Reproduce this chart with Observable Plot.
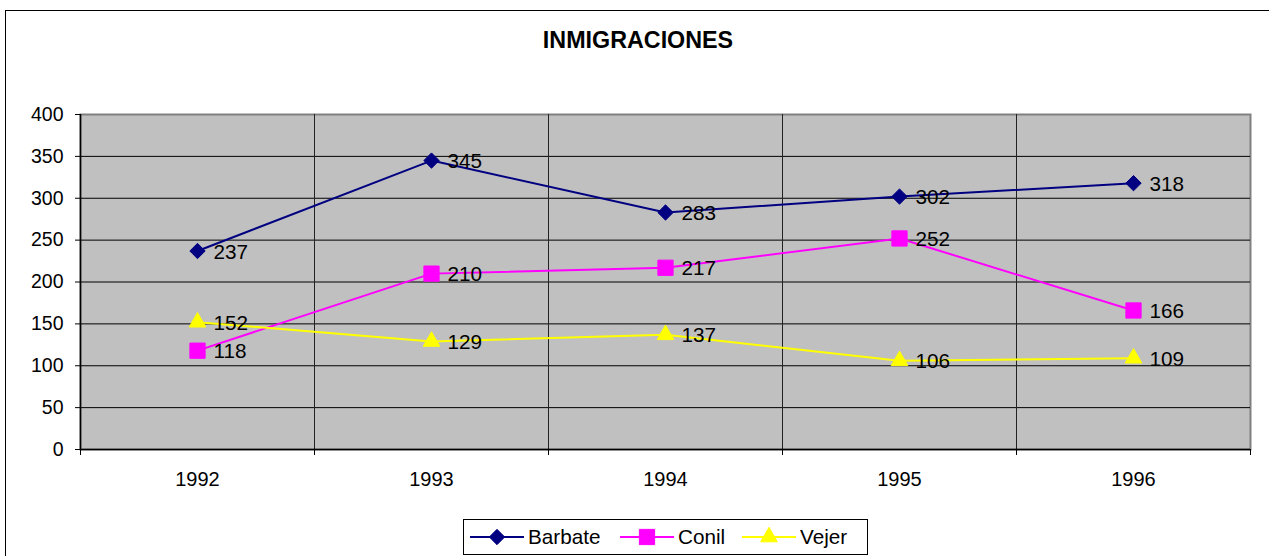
<!DOCTYPE html>
<html>
<head>
<meta charset="utf-8">
<script src="https://cdn.jsdelivr.net/npm/d3@7"></script>
<script src="https://cdn.jsdelivr.net/npm/@observablehq/plot@0.6"></script>
<style>
  html, body { margin: 0; padding: 0; background: #fff; }
  body { font-family: "Liberation Sans", Arial, sans-serif; overflow: hidden; }
  #wrap { position: relative; width: 1269px; height: 556px; overflow: hidden; }
  #border { position: absolute; left: 5px; top: 10px; width: 1300px; height: 600px; border: 1px solid #000; box-sizing: border-box; }
  #title { position: absolute; left: 0; width: 1276px; top: 27px; line-height: 27px; text-align: center; font-weight: bold; font-size: 23.3px; color: #000; }
  #chart { position: absolute; left: 0; top: 0; }
  #legend { position: absolute; left: 463px; top: 519px; width: 405px; height: 36px; border: 1px solid #000; box-sizing: border-box; background: #fff; font-size: 20.7px; }
  #legend .item { position: absolute; top: 0; height: 34px; display: flex; align-items: center; }
  #legend svg { display: block; }
  #legend span { margin-left: 4px; }
</style>
</head>
<body>
<div id="wrap">
  <div id="border"></div>
  <div id="title"></div>
  <div id="chart"></div>
  <div id="legend"></div>
</div>
<script>
const title = "INMIGRACIONES";
const years = [1992, 1993, 1994, 1995, 1996];
const seriesNames = ["Barbate", "Conil", "Vejer"];
const barbate = [237, 345, 283, 302, 318];
const conil = [118, 210, 217, 252, 166];
const vejer = [152, 129, 137, 106, 109];
const yTicks = [0, 50, 100, 150, 200, 250, 300, 350, 400];
const colors = {Barbate: "#000080", Conil: "#FF00FF", Vejer: "#FFFF00"};
const symbols = {Barbate: "diamond2", Conil: "square", Vejer: "triangle"};
const symbolR = {Barbate: 6.9, Conil: 8.6, Vejer: 6.2};

const valuesBySeries = {Barbate: barbate, Conil: conil, Vejer: vejer};
const data = seriesNames.flatMap(s => years.map((yr, i) => ({series: s, year: yr, value: valuesBySeries[s][i]})));
const boundaries = [years[0] - 0.5, ...years.map(y => y + 0.5)];

document.getElementById("title").textContent = title;

const marks = [
  Plot.frame({fill: "#C0C0C0", stroke: "#808080", strokeWidth: 2}),
  Plot.ruleY(yTicks.filter(v => v > 0 && v < 400), {stroke: "#000", strokeWidth: 1}),
  Plot.ruleX(boundaries.slice(1, -1), {stroke: "#222", strokeWidth: 1}),
  Plot.ruleX([boundaries[0]], {stroke: "#000", strokeWidth: 1.5}),
  Plot.ruleY([0], {stroke: "#000", strokeWidth: 1.5}),
  Plot.axisY({ticks: yTicks, tickSize: 5, tickPadding: 12, fontSize: 19.5, tickFormat: d => String(d), label: null}),
  Plot.axisX({ticks: boundaries, tickSize: 6, tickFormat: () => "", label: null}),
  Plot.axisX({ticks: years, tickSize: 0, tickPadding: 22, fontSize: 20, tickFormat: d => String(d), label: null}),
];
for (const s of seriesNames) {
  const d = data.filter(r => r.series === s);
  marks.push(Plot.line(d, {x: "year", y: "value", stroke: colors[s], strokeWidth: 2}));
}
for (const s of seriesNames) {
  const d = data.filter(r => r.series === s);
  marks.push(Plot.dot(d, {x: "year", y: "value", symbol: () => symbols[s], r: symbolR[s], fill: colors[s], stroke: colors[s], strokeWidth: 1}));
}
marks.push(Plot.text(data, {x: "year", y: "value", text: d => String(d.value), dx: 16, dy: 1, textAnchor: "start", fontSize: 20.7, fill: "#000"}));

const chart = Plot.plot({
  width: 1269,
  height: 556,
  marginLeft: 80,
  marginRight: 19,
  marginTop: 114,
  marginBottom: 107,
  style: {fontFamily: "'Liberation Sans', Arial, sans-serif", fontSize: "20px", color: "#000", background: "transparent", overflow: "visible"},
  x: {type: "linear", domain: [years[0] - 0.5, years[years.length - 1] + 0.5]},
  y: {domain: [0, 400]},
  symbol: {type: "identity"},
  marks
});
document.getElementById("chart").appendChild(chart);

// legend
const legend = document.getElementById("legend");
const itemLeft = {Barbate: 6, Conil: 156, Vejer: 278};
for (const s of seriesNames) {
  const item = document.createElement("div");
  item.className = "item";
  item.style.left = itemLeft[s] + "px";
  const svg = d3.create("svg").attr("width", 54).attr("height", 20);
  svg.append("line").attr("x1", 0).attr("x2", 54).attr("y1", 10).attr("y2", 10).attr("stroke", colors[s]).attr("stroke-width", 2);
  const symMap = {diamond2: d3.symbolDiamond2, square: d3.symbolSquare, triangle: d3.symbolTriangle};
  svg.append("path").attr("transform", "translate(27,10)")
    .attr("d", d3.symbol(symMap[symbols[s]], Math.PI * symbolR[s] * symbolR[s])())
    .attr("fill", colors[s]).attr("stroke", colors[s]);
  item.appendChild(svg.node());
  const span = document.createElement("span");
  span.textContent = s;
  item.appendChild(span);
  legend.appendChild(item);
}
</script>
</body>
</html>
